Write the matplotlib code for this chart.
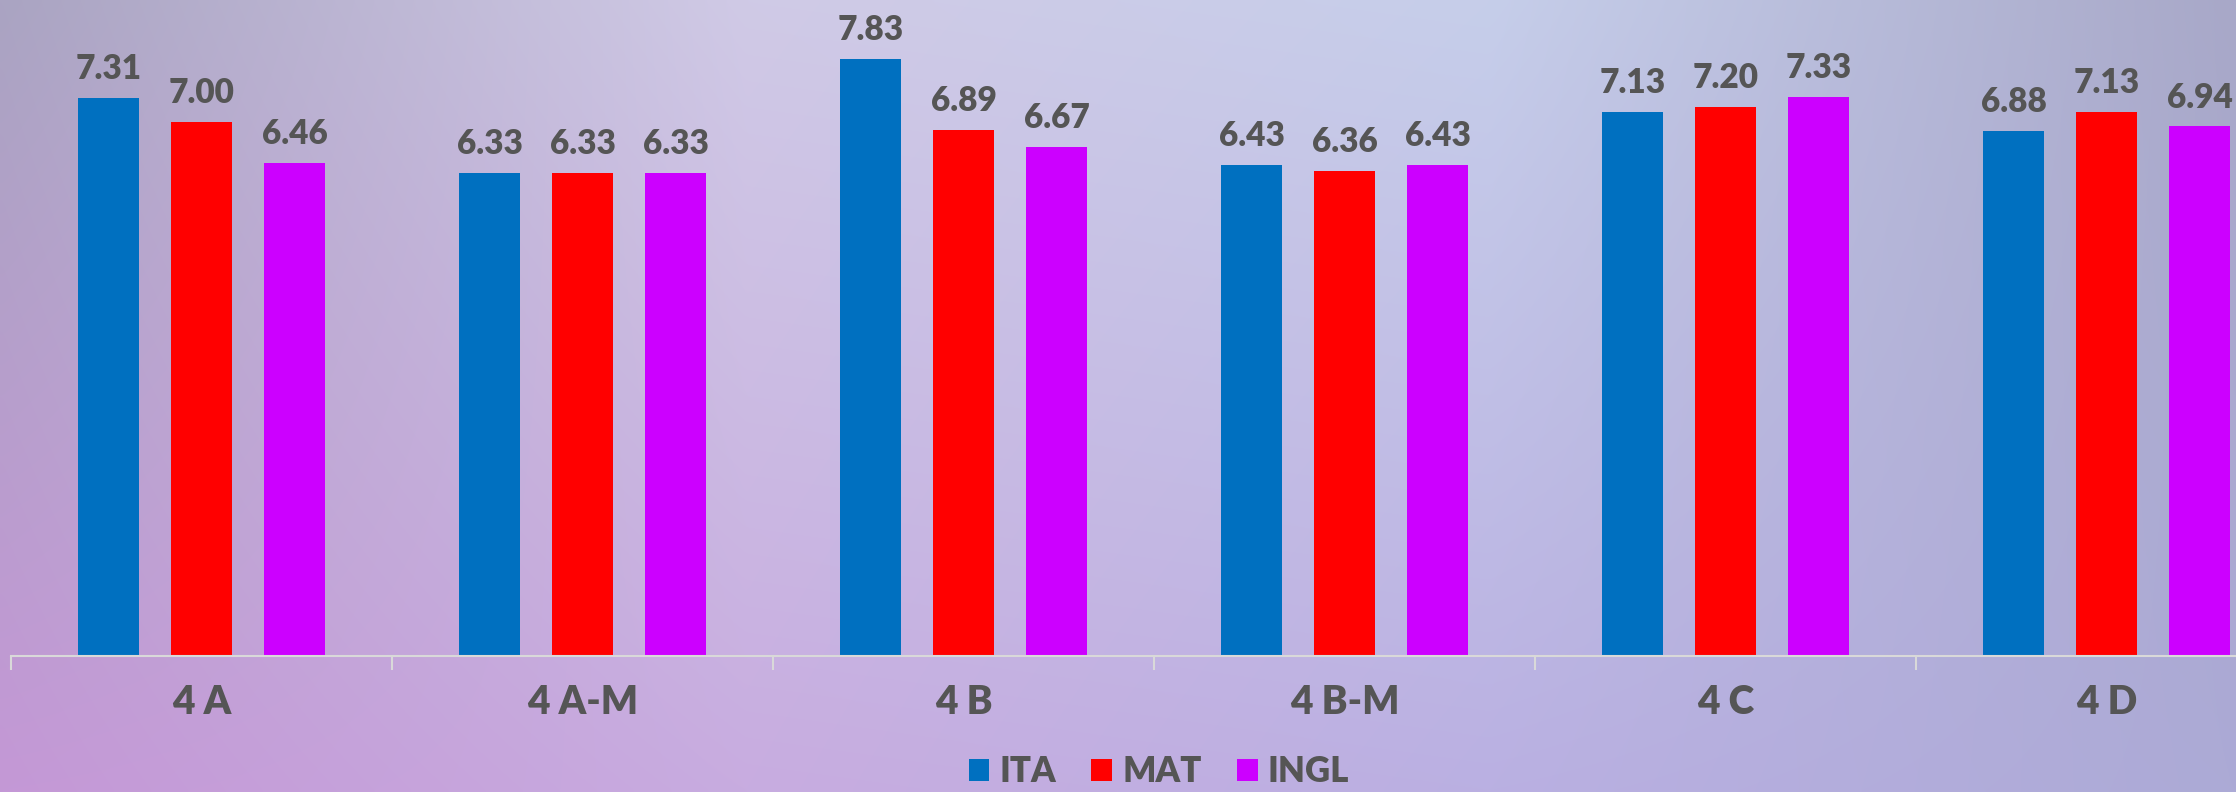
import numpy as np
import matplotlib.pyplot as plt

classes = ['4 A', '4 A-M', '4 B', '4 B-M', '4 C', '4 D']
ita = [7.31, 6.33, 7.83, 6.43, 7.13, 6.88]
mat = [7.00, 6.33, 6.89, 6.36, 7.20, 7.13]
ingl = [6.46, 6.33, 6.67, 6.43, 7.33, 6.94]
series = [('ITA', ita, '#0070C0'), ('MAT', mat, '#FF0000'), ('INGL', ingl, '#CC00FF')]

text_color = '#555555'
plt.rcParams['font.family'] = ['Lato', 'DejaVu Sans']

fig = plt.figure(figsize=(22.36, 7.92), dpi=100)

# soft nebula-like background
bg = fig.add_axes([0, 0, 1, 1], zorder=0)
bg.axis('off')
yy, xx = np.mgrid[0:1:200j, 0:1:400j]
top = np.array([[170, 164, 194], [208, 202, 230], [198, 206, 234], [168, 168, 200]]) / 255
bottom = np.array([[196, 152, 214], [200, 172, 224], [186, 176, 226], [172, 170, 214]]) / 255
xs = np.linspace(0, 1, 4)
img = np.zeros((200, 400, 3))
for c in range(3):
    t = np.interp(xx[0], xs, top[:, c])
    b = np.interp(xx[0], xs, bottom[:, c])
    img[:, :, c] = t[None, :] * (1 - yy[:, :1]) + b[None, :] * yy[:, :1]
bg.imshow(img, aspect='auto', extent=[0, 1, 0, 1], interpolation='bicubic')

ax = fig.add_axes([11 / 2236, 136 / 792, 1 - 11 / 2236, 656 / 792], zorder=1)
ax.patch.set_alpha(0)

x = np.arange(len(classes))
width = 0.16
step = 0.244
for i, (name, vals, color) in enumerate(series):
    bars = ax.bar(x + (i - 1) * step, vals, width, color=color, label=name)
    for b, v in zip(bars, vals):
        ax.text(b.get_x() + b.get_width() / 2, v + 0.17, f'{v:.2f}', ha='center', va='bottom',
                fontsize=24, fontweight='heavy', color=text_color)

for s in ['top', 'right', 'left']:
    ax.spines[s].set_visible(False)
ax.spines['bottom'].set_color('#d9d9d9')
ax.spines['bottom'].set_linewidth(1.5)
ax.set_yticks([])
ax.set_xticks(x)
ax.set_xticklabels(classes, fontsize=28, fontweight='heavy', color=text_color)
ax.tick_params(axis='x', which='major', length=0, pad=20)
ax.set_xticks(np.arange(len(classes) + 1) - 0.5, minor=True)
ax.tick_params(axis='x', which='minor', length=10, color='#d9d9d9', width=1.5)
ax.set_ylim(0, 656 / 76.3)
ax.set_xlim(-0.5, -0.5 + 2225 / 381)

fig.legend(loc='center', bbox_to_anchor=(1159 / 2236, 20 / 792), ncol=3, frameon=False,
           prop={'size': 25, 'weight': 'heavy'}, labelcolor=text_color,
           handlelength=0.6, handleheight=0.6, handletextpad=0.3, columnspacing=1.0)

plt.savefig('out.png', dpi=100)
